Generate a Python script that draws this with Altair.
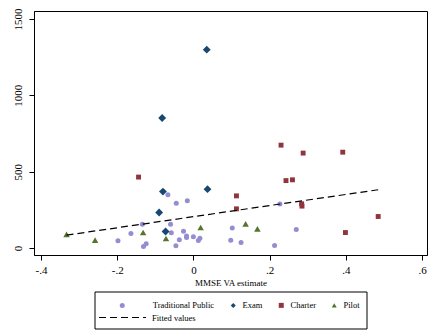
import altair as alt
import pandas as pd

# ---- data ----
trad_x = [-0.198, -0.164, -0.134, -0.131, -0.124, -0.067, -0.045, -0.016, -0.060, -0.058,
          -0.037, -0.046, -0.026, -0.018, -0.018, 0.000, 0.013, 0.017, 0.102, 0.098,
          0.125, 0.213, 0.227, 0.270]
trad_y = [48, 96, 157, 10, 28, 349, 294, 310, 157, 100,
          54, 15, 111, 80, 69, 74, 50, 65, 131, 52,
          37, 17, 288, 122]

exam_x = [0.035, -0.082, -0.080, 0.037, -0.090, -0.073]
exam_y = [1299, 852, 370, 386, 233, 109]

charter_x = [-0.144, 0.113, 0.113, 0.230, 0.288, 0.392, 0.243, 0.260, 0.284, 0.285, 0.485, 0.399]
charter_y = [465, 342, 257, 674, 622, 628, 442, 447, 290, 275, 207, 102]

pilot_x = [-0.333, -0.258, -0.132, 0.019, -0.072, 0.137, 0.168]
pilot_y = [90, 52, 102, 135, 63, 159, 126]

fit_x = [-0.333, 0.485]
fit_y = [85, 382]

groups = ["Traditional Public", "Exam", "Charter", "Pilot"]
colors = ["#938dd2", "#1a476f", "#90353b", "#55752f"]
shapes = ["circle", "diamond", "square", "triangle-up"]
sizes = [25, 62, 24, 42]

x_ticks = [-0.4, -0.2, 0.0, 0.2, 0.4, 0.6]
y_ticks = [0, 500, 1000, 1500]

rows = []
for g, xs, ys in zip(groups, [trad_x, exam_x, charter_x, pilot_x],
                     [trad_y, exam_y, charter_y, pilot_y]):
    for a, b in zip(xs, ys):
        rows.append({"x": a, "y": b, "group": g})
pts = pd.DataFrame(rows)
fit = pd.DataFrame({"x": fit_x, "y": fit_y, "series": ["Fitted values"] * len(fit_x)})

FONT = "Liberation Serif"
xscale = alt.Scale(domain=[-0.4184, 0.6131], nice=False, zero=False)
yscale = alt.Scale(domain=[-45, 1552], nice=False, zero=False)

xaxis = alt.Axis(values=x_ticks, title="MMSE VA estimate", grid=False,
                 labelExpr="(datum.value < 0 ? '-' : '') + (datum.value == 0 ? '0' : replace(format(abs(datum.value), '.1f'), '0.', '.'))",
                 labelFlush=False, labelOverlap=False, labelPadding=4, titlePadding=3)
yaxis = alt.Axis(values=y_ticks, title=None, grid=False, format="d",
                 labelAngle=270, labelAlign="center", labelBaseline="bottom",
                 labelFlush=False, labelOverlap=False, labelPadding=6)

pad = "\u200b" + "\u00a0" * 10
pt_legend = alt.Legend(orient="none", legendX=84, legendY=290, direction="horizontal",
                       columns=4, title=None, symbolSize=25, labelOffset=5,
                       columnPadding=14, padding=0,
                       labelExpr="datum.label == 'Traditional Public' ? '" + pad + "Traditional Public' : datum.label")

base = alt.Chart(pts).encode(
    x=alt.X("x:Q", scale=xscale, axis=xaxis),
    y=alt.Y("y:Q", scale=yscale, axis=yaxis),
    color=alt.Color("group:N", scale=alt.Scale(domain=groups, range=colors),
                    sort=groups, legend=pt_legend),
    shape=alt.Shape("group:N", scale=alt.Scale(domain=groups, range=shapes),
                    sort=groups, legend=pt_legend),
)
point_layers = [
    base.transform_filter(alt.datum.group == g).mark_point(
        filled=True, opacity=1, strokeWidth=0, size=s)
    for g, s in zip(groups, sizes)
]

line = alt.Chart(fit).mark_line(color="black", strokeWidth=1.2).encode(
    x="x:Q",
    y="y:Q",
    strokeDash=alt.StrokeDash("series:N",
                              scale=alt.Scale(domain=["Fitted values"], range=[[7, 4]]),
                              legend=alt.Legend(orient="none", legendX=64, legendY=282,
                                                title=None, symbolType="stroke",
                                                symbolSize=2209, symbolStrokeColor="black",
                                                symbolStrokeWidth=1.2, labelOffset=5,
                                                padding=0)),
)

box = alt.Chart(pd.DataFrame({"a": [0]})).mark_rect(
    fillOpacity=0, stroke="black", strokeWidth=1
).encode(x=alt.value(61), x2=alt.value(333), y=alt.value(281), y2=alt.value(318))

chart = alt.layer(*point_layers, line, box).properties(
    width=393, height=244,
    autosize=alt.AutoSizeParams(type="none"),
    padding={"left": 34, "top": 11, "right": 2, "bottom": 75},
    background="white",
).configure_view(stroke="black", strokeWidth=1).configure_axis(
    domainColor="black", domainWidth=1, tickColor="black", tickSize=5, tickWidth=1,
    labelFont=FONT, labelFontSize=11, labelColor="black",
    titleFont=FONT, titleFontSize=9, titleFontWeight="normal", titleColor="black",
).configure_legend(
    labelFont=FONT, labelFontSize=8.5, labelColor="black",
)

chart.save("out.html", embed_options={"renderer": "svg", "actions": False})
